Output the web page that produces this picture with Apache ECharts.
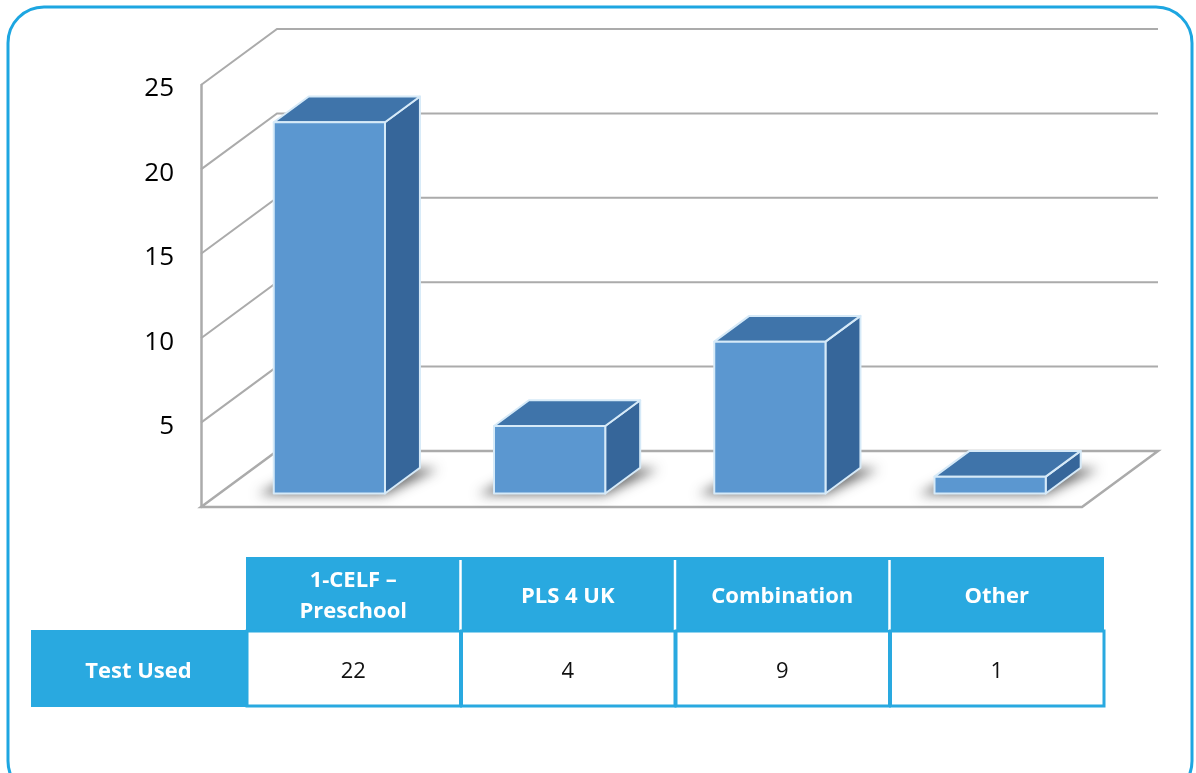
<!DOCTYPE html>
<html>
<head>
<meta charset="utf-8">
<script src="https://cdn.jsdelivr.net/npm/echarts@6/dist/echarts.min.js"></script>
<style>
  html, body { margin: 0; padding: 0; background: #fff; }
  #chart { width: 1196px; height: 773px; }
</style>
</head>
<body>
<div id="chart"></div>
<script>
// data
const categories = ['1-CELF –\nPreschool', 'PLS 4 UK', 'Combination', 'Other'];
const testUsed = [22, 4, 9, 1];
const yTicks = [5, 10, 15, 20, 25];
const rowLabel = 'Test Used';

// fake 3d depth (pixels for full depth)
const DX = 76, DY = -56;
const D_FRONT = 0.24, D_BACK = 0.70;

const gridColor = '#ABABAB';
const blue = '#29A9E0';
const FAR = 3000; // draw shadow shapes off screen, keep only their blur

const chart = echarts.init(document.getElementById('chart'));

function wallLine(params, api) {
    const cs = params.coordSys;
    const v = api.value(1);
    const y = api.coord([0, v])[1];
    const left = cs.x, right = cs.x + cs.width;
    return {
        type: 'group',
        children: [
            {
                type: 'polyline',
                shape: { points: [[left, y], [left + DX, y + DY], [right + DX, y + DY]] },
                style: { stroke: gridColor, lineWidth: 2, fill: null }
            },
            {
                type: 'text', x: left - 27, y: y + 4,
                style: { text: String(v), fill: '#000', font: '26px "Open Sans"', align: 'right', verticalAlign: 'middle' }
            }
        ]
    };
}

function floor(params, api) {
    const cs = params.coordSys;
    const y = api.coord([0, 0])[1];
    const left = cs.x, right = cs.x + cs.width;
    return {
        type: 'polygon',
        shape: { points: [[left, y], [right, y], [right + DX, y + DY], [left + DX, y + DY]] },
        style: { stroke: gridColor, lineWidth: 2.5, fill: '#fff' }
    };
}

function bar3d(params, api) {
    const cat = api.value(0);
    const base = api.coord([cat, 0]);
    const top = api.coord([cat, api.value(1)]);
    const w = api.size([1, 0])[0] * 0.505;
    const x0 = base[0] - w / 2 + DX * D_FRONT;
    const x1 = x0 + w;
    const yb = base[1] + DY * D_FRONT;
    const yt = top[1] + DY * D_FRONT;
    const bx = DX * (D_BACK - D_FRONT), by = DY * (D_BACK - D_FRONT);
    const edge = { stroke: '#D6EAF8', lineWidth: 2, lineJoin: 'round' };
    return {
        type: 'group',
        children: [
            {
                // soft shadow on the floor
                type: 'polygon',
                shape: { points: [[x0 - 16 - FAR, yb + 1], [x1 - FAR, yb + 1], [x1 + bx + 18 - FAR, yb + by + 1], [x0 + bx - FAR, yb + by + 1]] },
                style: { fill: '#888', shadowBlur: 12, shadowColor: 'rgba(80,80,80,0.85)', shadowOffsetX: FAR }
            },
            {
                type: 'polygon',
                shape: { points: [[x1, yt], [x1 + bx, yt + by], [x1 + bx, yb + by], [x1, yb]] },
                style: Object.assign({ fill: '#36669A' }, edge)
            },
            {
                type: 'polygon',
                shape: { points: [[x0, yt], [x0 + bx, yt + by], [x1 + bx, yt + by], [x1, yt]] },
                style: Object.assign({ fill: '#3F74AA' }, edge)
            },
            {
                type: 'rect',
                shape: { x: x0, y: yt, width: w, height: yb - yt },
                style: Object.assign({ fill: '#5B97D0' }, edge)
            }
        ]
    };
}

// table below the chart
const colLeft = 246, colW = 214.5, headTop = 557, headH = 73, rowTop = 630, rowH = 77;
const tableEls = [];
tableEls.push({
    type: 'rect', shape: { x: colLeft, y: headTop, width: colW * categories.length, height: headH },
    style: { fill: blue }
});
tableEls.push({
    type: 'rect', shape: { x: 31, y: rowTop, width: colLeft - 31, height: rowH },
    style: { fill: blue }
});
tableEls.push({
    type: 'text', x: (31 + colLeft) / 2, y: rowTop + rowH / 2 + 3,
    style: { text: rowLabel, fill: '#fff', font: 'bold 22px "Open Sans"', align: 'center', verticalAlign: 'middle' }
});
categories.forEach(function (c, i) {
    const x = colLeft + i * colW;
    if (i > 0) {
        tableEls.push({
            type: 'line', shape: { x1: x, y1: headTop + 3, x2: x, y2: headTop + headH },
            style: { stroke: '#fff', lineWidth: 2.5 }
        });
    }
    tableEls.push({
        type: 'text', x: x + colW / 2, y: headTop + headH / 2 + 3,
        style: { text: c, fill: '#fff', font: 'bold 22px "Open Sans"', align: 'center', verticalAlign: 'middle', lineHeight: 31 }
    });
    tableEls.push({
        type: 'rect', shape: { x: x + 1, y: rowTop + 1, width: colW - 1, height: rowH - 2 },
        style: { fill: '#fff', stroke: blue, lineWidth: 3 }
    });
    tableEls.push({
        type: 'text', x: x + colW / 2, y: rowTop + rowH / 2 + 3,
        style: { text: String(testUsed[i]), fill: '#111', font: '22px "Open Sans"', align: 'center', verticalAlign: 'middle' }
    });
});

const option = {
    animation: false,
    backgroundColor: '#fff',
    grid: { left: 201, right: 114, top: 85, bottom: 266 },
    xAxis: {
        type: 'category',
        data: categories,
        axisLine: { show: false },
        axisTick: { show: false },
        axisLabel: { show: false },
        splitLine: { show: false }
    },
    yAxis: {
        type: 'value',
        min: 0,
        max: 25,
        interval: 5,
        axisLine: { show: true, lineStyle: { color: gridColor, width: 2.5 } },
        axisTick: { show: false },
        splitLine: { show: false },
        axisLabel: { show: false }
    },
    graphic: [
        {
            type: 'rect', z: -10,
            shape: { x: 8, y: 7, width: 1184, height: 790, r: 36 },
            style: { fill: null, stroke: '#1DA6E1', lineWidth: 3 }
        },
        { type: 'group', children: tableEls }
    ],
    series: [
        {
            type: 'custom', name: 'floor', clip: false, z: 1,
            renderItem: floor,
            data: [[0, 0]]
        },
        {
            type: 'custom', name: 'walls', clip: false, z: 2,
            renderItem: wallLine,
            data: yTicks.map(function (v) { return [0, v]; })
        },
        {
            type: 'custom', name: 'Test Used', clip: false, z: 3,
            renderItem: bar3d,
            data: testUsed.map(function (v, i) { return [i, v]; })
        }
    ]
};

chart.setOption(option);
</script>
</body>
</html>
